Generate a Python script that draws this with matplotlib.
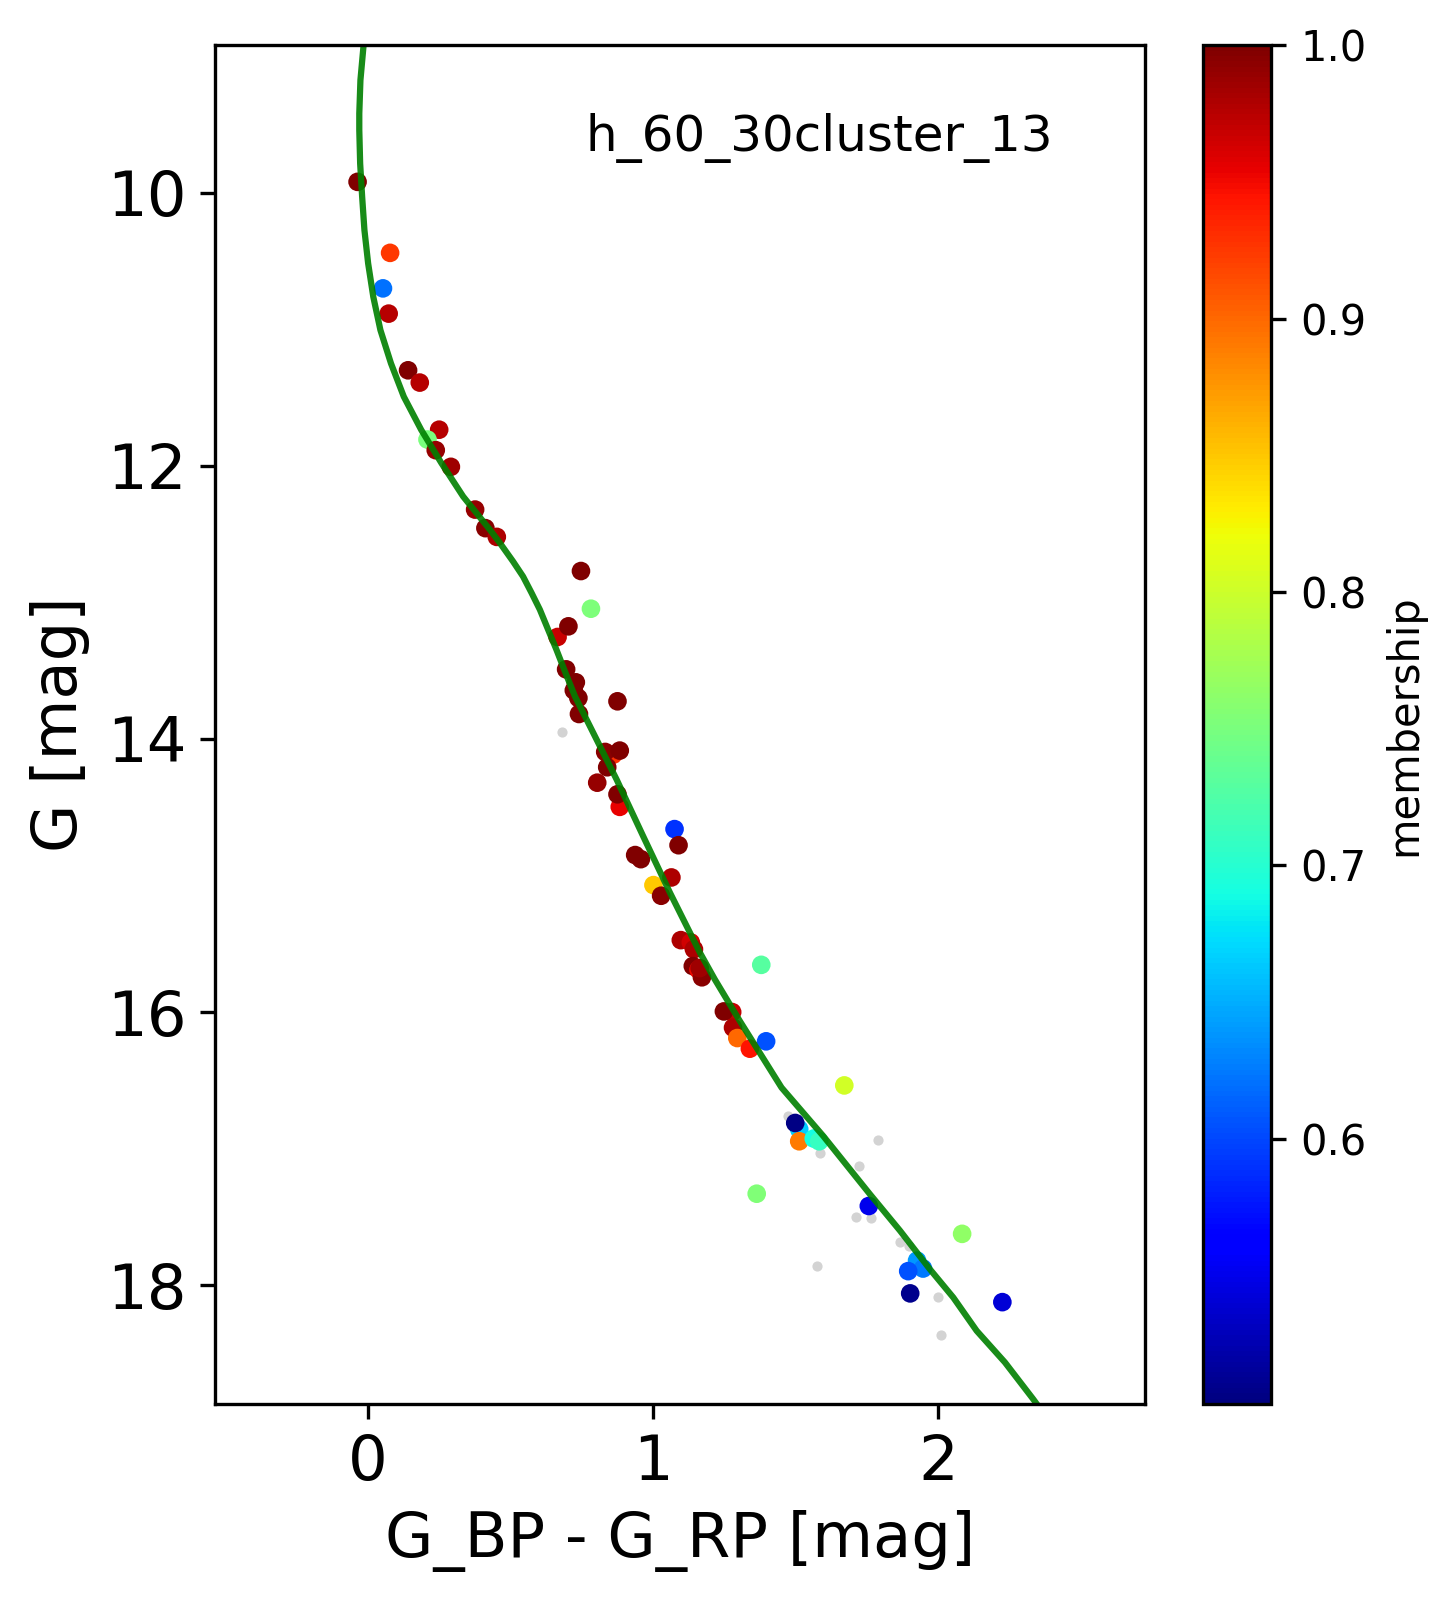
import matplotlib
matplotlib.use("Agg")
import matplotlib.pyplot as plt

# cluster members
bp_rp = [-0.036, 0.078, 0.053, 0.073, 0.141, 0.182, 0.25, 0.209, 0.238, 0.291, 0.376, 0.412, 0.452,
         0.747, 0.782, 0.665, 0.703, 0.695, 0.729, 0.722, 0.738, 0.74, 0.875, 0.86, 0.832, 0.883,
         0.839, 0.804, 0.883, 0.875, 1.075, 1.089, 0.937, 0.957, 1.001, 1.064, 1.028, 1.097, 1.132,
         1.143, 1.139, 1.159, 1.171, 1.163, 1.379, 1.277, 1.248, 1.28, 1.295, 1.339, 1.396, 1.67,
         1.512, 1.498, 1.512, 1.563, 1.582, 1.363, 1.756, 2.083, 1.925, 1.946, 1.894, 1.901, 2.224]
g_mag = [9.92, 10.44, 10.70, 10.885, 11.30, 11.39, 11.735, 11.807, 11.885, 12.007, 12.32, 12.456, 12.52,
         12.77, 13.046, 13.253, 13.175, 13.49, 13.585, 13.644, 13.70, 13.817, 13.724, 14.115, 14.095, 14.085,
         14.207, 14.32, 14.497, 14.405, 14.66, 14.778, 14.85, 14.88, 15.07, 15.014, 15.148, 15.473, 15.49,
         15.54, 15.663, 15.69, 15.745, 15.678, 15.654, 16.0, 15.995, 16.114, 16.19, 16.268, 16.214, 16.537,
         16.858, 16.812, 16.946, 16.926, 16.946, 17.33, 17.42, 17.624, 17.82, 17.878, 17.897, 18.06, 18.124]
membership = [1.0, 0.925, 0.62, 0.976, 1.0, 0.975, 0.975, 0.75, 0.99, 0.985, 0.99, 0.995, 0.98,
              1.0, 0.752, 0.967, 1.0, 1.0, 1.0, 1.0, 1.0, 1.0, 1.0, 0.93, 0.995, 1.0,
              1.0, 0.99, 0.955, 1.0, 0.59, 1.0, 1.0, 1.0, 0.85, 0.98, 0.995, 0.98, 0.965,
              0.98, 1.0, 0.95, 0.995, 0.985, 0.73, 0.97, 1.0, 0.98, 0.9, 0.945, 0.605, 0.803,
              0.665, 0.505, 0.89, 0.69, 0.71, 0.755, 0.55, 0.765, 0.64, 0.625, 0.605, 0.51, 0.54]

# field stars
field_bp_rp = [0.681, 1.474, 1.585, 1.789, 1.722, 1.711, 1.764, 1.866, 1.897, 1.575, 1.999, 2.01]
field_g = [13.95, 16.76, 17.03, 16.94, 17.13, 17.497, 17.507, 17.687, 17.71, 17.863, 18.09, 18.367]

# isochrone
iso_color = [-0.015, -0.026, -0.030, -0.030, -0.027, -0.020, -0.012, 0.001, 0.019, 0.044, 0.081, 0.126,
             0.187, 0.258, 0.334, 0.428, 0.463, 0.509, 0.544, 0.574, 0.603, 0.632, 0.661, 0.693, 0.726,
             0.802, 0.872, 0.965, 1.059, 1.164, 1.216, 1.304, 1.45, 1.596,
             1.76, 1.865, 1.97, 2.052, 2.134, 2.233, 2.332, 2.39]
iso_g = [8.92, 9.175, 9.419, 9.541, 9.785, 10.029, 10.273, 10.517, 10.761, 11.005, 11.249, 11.493,
         11.736, 11.98, 12.224, 12.468, 12.565, 12.70, 12.81, 12.931, 13.053, 13.2, 13.346, 13.517, 13.688,
         14.005, 14.297, 14.712, 15.126, 15.565, 15.76, 16.066, 16.553, 16.907,
         17.334, 17.6, 17.883, 18.09, 18.334, 18.565, 18.834, 19.0]

W, H = 1453, 1602
fig = plt.figure(figsize=(W / 300, H / 300), dpi=300)
ax = fig.add_axes([215.5 / W, 1 - 1404 / H, 929.5 / W, 1358.7 / H])
cax = fig.add_axes([1203 / W, 1 - 1404 / H, 68 / W, 1358.7 / H])

ax.scatter(field_bp_rp, field_g, s=6, c="lightgray", linewidths=0)
sc = ax.scatter(bp_rp, g_mag, s=20, c=membership, cmap="jet", vmin=0.503, vmax=1.0, linewidths=0)
ax.plot(iso_color, iso_g, color="green", lw=1.5, alpha=0.9)

ax.set_xlim(-0.534, 2.724)
ax.set_ylim(18.87, 8.92)
ax.set_xticks([0, 1, 2])
ax.set_yticks([10, 12, 14, 16, 18])
ax.tick_params(labelsize=15)
ax.set_xlabel("G_BP - G_RP [mag]", fontsize=15)
ax.set_ylabel("G [mag]", fontsize=15)
ax.text(0.764, 9.695, "h_60_30cluster_13", fontsize=12)

cbar = fig.colorbar(sc, cax=cax)
cbar.set_ticks([0.6, 0.7, 0.8, 0.9, 1.0])
cbar.ax.tick_params(labelsize=10)
cbar.set_label("membership", fontsize=10)

plt.savefig("out.png", dpi=300)
